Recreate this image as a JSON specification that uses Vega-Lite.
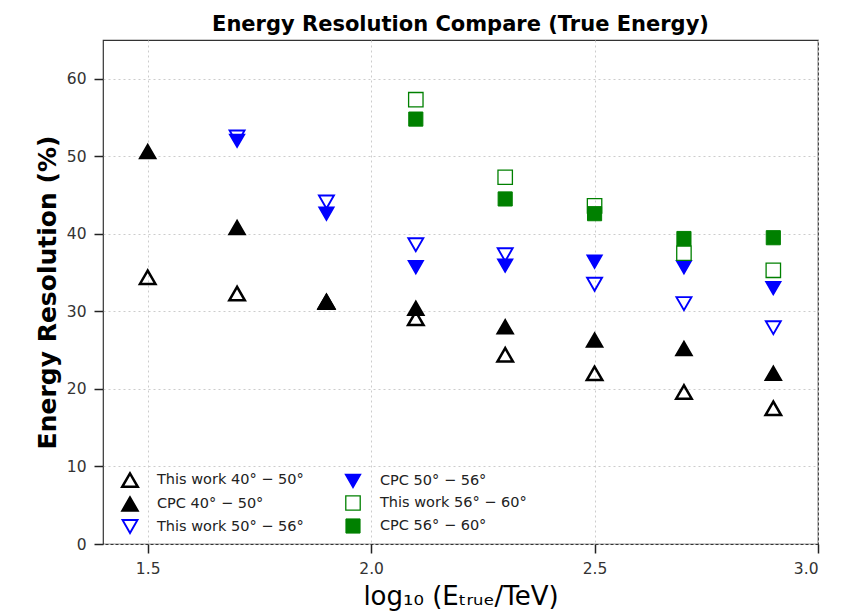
{
  "$schema": "https://vega.github.io/schema/vega-lite/v6.json",
  "autosize": "none",
  "width": 715,
  "height": 504,
  "padding": {"left": 103, "top": 40, "right": 31, "bottom": 72},
  "background": "white",
  "config": {
    "font": "DejaVu Sans",
    "view": {"stroke": "#333333", "strokeWidth": 1.2},
    "axis": {
      "domain": false,
      "ticks": true,
      "tickColor": "#222222",
      "tickWidth": 1.5,
      "tickSize": 9,
      "labelFont": "DejaVu Sans",
      "labelFontSize": 15.5,
      "labelColor": "#333333",
      "grid": true,
      "gridColor": "#cccccc",
      "gridDash": [2, 3],
      "gridWidth": 1
    }
  },
  "title": {
    "text": "Energy Resolution Compare (True Energy)",
    "font": "DejaVu Sans",
    "fontSize": 21,
    "fontWeight": "bold",
    "color": "#000000",
    "anchor": "middle",
    "offset": 5
  },
  "data": {
    "values": [
      {"x": 1.5, "s": "This work 40° − 50°", "y": 34.4},
      {"x": 1.7, "s": "This work 40° − 50°", "y": 32.3},
      {"x": 1.9, "s": "This work 40° − 50°", "y": 31.2},
      {"x": 2.1, "s": "This work 40° − 50°", "y": 29.1},
      {"x": 2.3, "s": "This work 40° − 50°", "y": 24.4},
      {"x": 2.5, "s": "This work 40° − 50°", "y": 22.0},
      {"x": 2.7, "s": "This work 40° − 50°", "y": 19.6},
      {"x": 2.9, "s": "This work 40° − 50°", "y": 17.5},
      {"x": 1.5, "s": "CPC 40° − 50°", "y": 50.6},
      {"x": 1.7, "s": "CPC 40° − 50°", "y": 40.8},
      {"x": 1.9, "s": "CPC 40° − 50°", "y": 31.3},
      {"x": 2.1, "s": "CPC 40° − 50°", "y": 30.4},
      {"x": 2.3, "s": "CPC 40° − 50°", "y": 28.0},
      {"x": 2.5, "s": "CPC 40° − 50°", "y": 26.3},
      {"x": 2.7, "s": "CPC 40° − 50°", "y": 25.2},
      {"x": 2.9, "s": "CPC 40° − 50°", "y": 22.0},
      {"x": 1.7, "s": "This work 50° − 56°", "y": 52.5},
      {"x": 1.9, "s": "This work 50° − 56°", "y": 44.1},
      {"x": 2.1, "s": "This work 50° − 56°", "y": 38.6},
      {"x": 2.3, "s": "This work 50° − 56°", "y": 37.3},
      {"x": 2.5, "s": "This work 50° − 56°", "y": 33.5},
      {"x": 2.7, "s": "This work 50° − 56°", "y": 31.0},
      {"x": 2.9, "s": "This work 50° − 56°", "y": 27.9},
      {"x": 1.7, "s": "CPC 50° − 56°", "y": 52.0},
      {"x": 1.9, "s": "CPC 50° − 56°", "y": 42.6},
      {"x": 2.1, "s": "CPC 50° − 56°", "y": 35.7},
      {"x": 2.3, "s": "CPC 50° − 56°", "y": 35.9},
      {"x": 2.5, "s": "CPC 50° − 56°", "y": 36.4},
      {"x": 2.7, "s": "CPC 50° − 56°", "y": 35.7},
      {"x": 2.9, "s": "CPC 50° − 56°", "y": 33.0},
      {"x": 2.1, "s": "This work 56° − 60°", "y": 57.3},
      {"x": 2.3, "s": "This work 56° − 60°", "y": 47.3},
      {"x": 2.5, "s": "This work 56° − 60°", "y": 43.6},
      {"x": 2.7, "s": "This work 56° − 60°", "y": 37.5},
      {"x": 2.9, "s": "This work 56° − 60°", "y": 35.3},
      {"x": 2.1, "s": "CPC 56° − 60°", "y": 54.8},
      {"x": 2.3, "s": "CPC 56° − 60°", "y": 44.5},
      {"x": 2.5, "s": "CPC 56° − 60°", "y": 42.6},
      {"x": 2.7, "s": "CPC 56° − 60°", "y": 39.4},
      {"x": 2.9, "s": "CPC 56° − 60°", "y": 39.5}
    ]
  },
  "mark": {"type": "point", "opacity": 1},
  "encoding": {
    "x": {
      "field": "x",
      "type": "quantitative",
      "scale": {"domain": [1.4, 3.0], "nice": false, "zero": false},
      "axis": {
        "values": [1.5, 2.0, 2.5, 3.0],
        "format": ".1f",
        "title": "log₁₀ (Eₜᵣᵤₑ/TeV)",
        "titleFont": "DejaVu Sans",
        "titleFontSize": 26,
        "titleFontWeight": "normal",
        "titleColor": "#000000",
        "labelPadding": 8,
        "titlePadding": 7
      }
    },
    "y": {
      "field": "y",
      "type": "quantitative",
      "scale": {"domain": [0, 65], "nice": false},
      "axis": {
        "values": [0, 10, 20, 30, 40, 50, 60],
        "title": "Energy Resolution (%)",
        "titleFont": "DejaVu Sans",
        "titleFontSize": 25,
        "titleFontWeight": "bold",
        "titleColor": "#000000",
        "labelPadding": 8,
        "titlePadding": 6
      }
    },
    "shape": {
      "field": "s",
      "type": "nominal",
      "scale": {
        "domain": ["This work 40° − 50°", "CPC 40° − 50°", "This work 50° − 56°", "CPC 50° − 56°", "This work 56° − 60°", "CPC 56° − 60°"],
        "range": ["triangle-up", "triangle-up", "triangle-down", "triangle-down", "square", "square"]
      },
      "legend": {
        "title": null,
        "orient": "none",
        "legendX": 18,
        "legendY": 431,
        "columns": 2,
        "columnPadding": 38,
        "rowPadding": 1,
        "labelFont": "DejaVu Sans",
        "labelFontSize": 14.5,
        "labelColor": "#222222",
        "labelOffset": 18,
        "labelLimit": 200
      }
    },
    "stroke": {
      "field": "s",
      "type": "nominal",
      "scale": {
        "domain": ["This work 40° − 50°", "CPC 40° − 50°", "This work 50° − 56°", "CPC 50° − 56°", "This work 56° − 60°", "CPC 56° − 60°"],
        "range": ["#000000", "#000000", "#0000ff", "#0000ff", "#008000", "#008000"]
      }
    },
    "fill": {
      "field": "s",
      "type": "nominal",
      "scale": {
        "domain": ["This work 40° − 50°", "CPC 40° − 50°", "This work 50° − 56°", "CPC 50° − 56°", "This work 56° − 60°", "CPC 56° − 60°"],
        "range": ["transparent", "#000000", "transparent", "#0000ff", "transparent", "#008000"]
      }
    },
    "size": {
      "field": "s",
      "type": "nominal",
      "scale": {
        "domain": ["This work 40° − 50°", "CPC 40° − 50°", "This work 50° − 56°", "CPC 50° − 56°", "This work 56° − 60°", "CPC 56° − 60°"],
        "range": [240, 200, 240, 200, 240, 200]
      }
    },
    "strokeWidth": {
      "field": "s",
      "type": "nominal",
      "scale": {
        "domain": ["This work 40° − 50°", "CPC 40° − 50°", "This work 50° − 56°", "CPC 50° − 56°", "This work 56° − 60°", "CPC 56° − 60°"],
        "range": [2.5, 1, 2.5, 1, 2.5, 1]
      }
    }
  }
}
